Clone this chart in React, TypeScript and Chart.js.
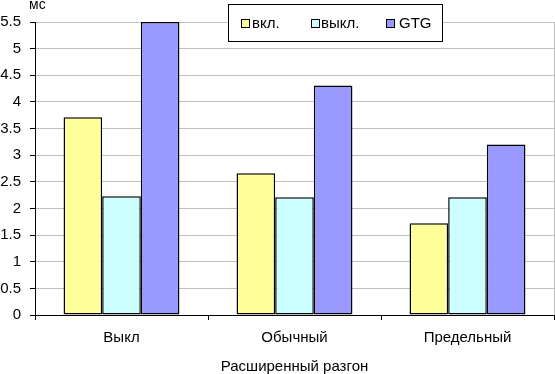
import React, { useEffect, useRef } from "react";
import { Chart, registerables } from "chart.js";

Chart.register(...registerables);

const categories = ["Выкл", "Обычный", "Предельный"];
const seriesNames = ["вкл.", "выкл.", "GTG"];
const seriesOn = [3.71, 2.66, 1.72];
const seriesOff = [2.23, 2.21, 2.21];
const seriesGTG = [5.5, 4.31, 3.2];
const colors = ["#FFFF99", "#CCFFFF", "#9999FF"];
const yUnit = "мс";
const xTitle = "Расширенный разгон";

const FONT = "'Liberation Sans', Arial, sans-serif";

export default function App() {
  const ref = useRef<HTMLCanvasElement | null>(null);

  useEffect(() => {
    document.body.style.margin = "0";
    const canvas = ref.current;
    if (!canvas) return;
    const values = [seriesOn, seriesOff, seriesGTG];
    const chart = new Chart(canvas, {
      type: "bar",
      data: {
        labels: categories,
        datasets: seriesNames.map((name, i) => ({
          label: name,
          data: values[i],
          backgroundColor: colors[i],
          borderColor: "#000000",
          borderWidth: 1.5,
          borderSkipped: false,
          categoryPercentage: 0.67,
          barPercentage: 1,
        })),
      },
      options: {
        animation: false,
        responsive: false,
        maintainAspectRatio: false,
        devicePixelRatio: 1,
        layout: { padding: { top: 22, right: 1, left: 0, bottom: 0 } },
        plugins: {
          legend: { display: false },
          tooltip: { enabled: false },
        },
        scales: {
          x: {
            offset: true,
            grid: {
              offset: true,
              color: (ctx: any) => (ctx.type === "scale" ? "#c0c0c0" : "rgba(0,0,0,0)"),
              tickColor: "#000000",
              tickLength: 5,
              lineWidth: 1,
            },
            border: { color: "#000000", width: 1 },
            ticks: {
              color: "#000000",
              font: { family: FONT, size: 15 },
              padding: 9,
              maxRotation: 0,
            },
            title: {
              display: true,
              text: xTitle,
              color: "#000000",
              font: { family: FONT, size: 15, lineHeight: 1 },
              padding: 0,
            },
            afterFit: (s: any) => {
              s.height = 59;
            },
          },
          y: {
            min: 0,
            max: 5.5,
            grid: {
              color: (ctx: any) => (ctx.tick && ctx.tick.value === 0 ? "rgba(0,0,0,0)" : "#c0c0c0"),
              tickColor: "#000000",
              tickLength: 5,
              lineWidth: 1,
            },
            border: { color: "#000000", width: 1 },
            ticks: {
              stepSize: 0.5,
              color: "#000000",
              font: { family: FONT, size: 15 },
              padding: 9,
              callback: (v: any) => String(parseFloat(Number(v).toFixed(1))),
            },
            afterFit: (s: any) => {
              s.width = 35;
            },
          },
        },
      },
    });
    return () => chart.destroy();
  }, []);

  const items = [
    { sq: 241, tx: 252 },
    { sq: 311, tx: 321 },
    { sq: 386, tx: 399 },
  ];

  return (
    <div style={{ position: "relative", width: 555, height: 374, background: "#ffffff", overflow: "hidden" }}>
      <canvas ref={ref} width={555} height={374} style={{ width: 555, height: 374, display: "block" }} />
      <div
        style={{
          position: "absolute",
          left: 29,
          top: -3,
          fontFamily: FONT,
          fontSize: 14,
          lineHeight: "14px",
          color: "#000",
        }}
      >
        {yUnit}
      </div>
      <div
        style={{
          position: "absolute",
          left: 228,
          top: 4,
          width: 215,
          height: 38,
          boxSizing: "border-box",
          border: "1px solid #000",
          background: "#fff",
          fontFamily: FONT,
          fontSize: 15,
          color: "#000",
        }}
      >
        {seriesNames.map((name, i) => (
          <React.Fragment key={name}>
            <div
              style={{
                position: "absolute",
                left: items[i].sq - 229,
                top: 14,
                width: 9,
                height: 9,
                boxSizing: "border-box",
                border: "1px solid #000",
                background: colors[i],
              }}
            />
            <div
              style={{
                position: "absolute",
                left: items[i].tx - 229,
                top: 9,
                lineHeight: "17px",
                whiteSpace: "nowrap",
              }}
            >
              {name}
            </div>
          </React.Fragment>
        ))}
      </div>
    </div>
  );
}
